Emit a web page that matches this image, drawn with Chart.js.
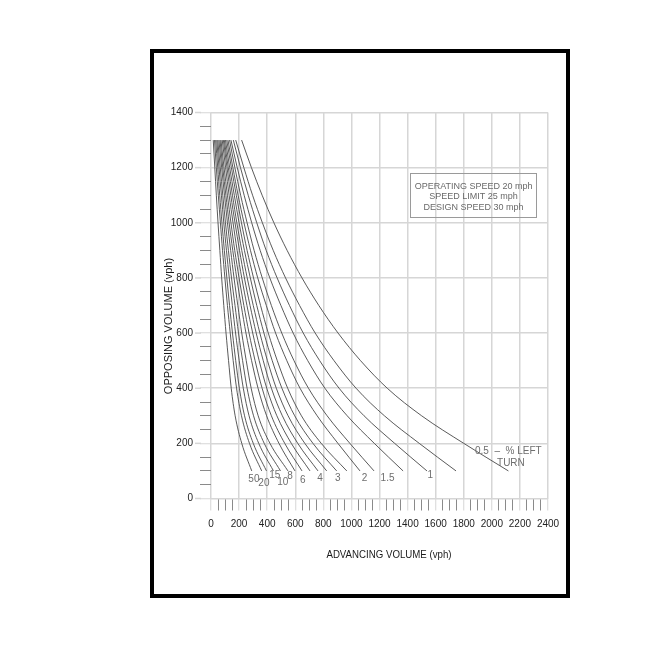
<!DOCTYPE html>
<html>
<head>
<meta charset="utf-8">
<script src="https://cdn.jsdelivr.net/npm/chart.js@4.4.1/dist/chart.umd.min.js"></script>
<style>
  html, body { margin: 0; padding: 0; background: #fff; }
  canvas { display: block; }
</style>
</head>
<body>
<canvas id="chart" width="672" height="658"></canvas>
<script>
const opposing = [1300, 1200, 1100, 1000, 900, 800, 700, 600, 500, 400, 300, 200, 100];

// advancing volume (vph) of each % left turn curve, left to right
const curve50 = [16, 27, 38, 50, 63, 76, 91, 107, 125, 144, 172, 219, 290];
const curve20 = [25, 38, 52, 67, 82, 99, 117, 137, 158, 182, 217, 274, 361];
const curve15 = [33, 48, 62, 78, 95, 113, 132, 153, 176, 202, 239, 301, 395];
const curve10 = [41, 57, 74, 91, 110, 130, 152, 175, 201, 230, 271, 340, 445];
const curve8a = [48, 66, 84, 103, 124, 146, 171, 196, 225, 257, 303, 379, 495];
const curve8b = [56, 76, 96, 117, 140, 164, 191, 219, 251, 286, 336, 420, 548];
const curve6 = [64, 84, 106, 129, 155, 183, 215, 249, 289, 335, 396, 484, 598];
const curve5a = [71, 93, 117, 142, 169, 200, 234, 271, 314, 364, 430, 525, 648];
const curve5b = [80, 104, 129, 157, 186, 219, 256, 297, 343, 397, 469, 572, 705];
const curve4 = [88, 114, 141, 171, 203, 238, 278, 322, 372, 430, 508, 618, 762];
const curve35 = [95, 123, 153, 184, 219, 258, 301, 348, 402, 465, 549, 668, 824];
const curve3 = [103, 133, 166, 200, 238, 280, 326, 377, 436, 505, 596, 726, 895];
const curve25 = [112, 145, 180, 217, 257, 303, 353, 408, 472, 546, 644, 785, 967];
const curve2 = [121, 156, 193, 235, 281, 333, 394, 460, 540, 634, 756, 904, 1061];
const curve15b = [132, 170, 211, 257, 307, 365, 430, 504, 591, 694, 827, 989, 1161];
const curve125 = [142, 187, 236, 290, 350, 419, 498, 585, 689, 811, 970, 1163, 1368];
const curve1 = [159, 210, 265, 326, 393, 471, 559, 657, 774, 912, 1090, 1308, 1538];
const curve075 = [176, 234, 296, 366, 443, 531, 631, 742, 876, 1033, 1235, 1483, 1745];
const curve05 = [218, 288, 364, 448, 542, 648, 768, 905, 1065, 1255, 1500, 1800, 2118];

const curves = [curve50, curve20, curve15, curve10, curve8a, curve8b, curve6, curve5a, curve5b,
  curve4, curve35, curve3, curve25, curve2, curve15b, curve125, curve1, curve075, curve05];

// tick labels
const xTickLabels = [0, 200, 400, 600, 800, 1000, 1200, 1400, 1600, 1800, 2000, 2200, 2400];
const yTickLabels = [0, 200, 400, 600, 800, 1000, 1200, 1400];

// curve labels (% left turn) and where they sit, in chart units
const curveLabels = ['50', '20', '15', '10', '8', '6', '4', '3', '2', '1.5', '1', '0.5  \u2013  % LEFT', 'TURN'];
const labelAtX = [266, 337, 415, 472, 543, 634, 757, 883, 1073, 1208, 1541, 1880, 2037];
const labelAtY = [70, 55, 85, 60, 79, 68, 73, 73, 73, 73, 83, 170, 129];

const speedNotes = ['OPERATING SPEED 20 mph', 'SPEED LIMIT 25 mph', 'DESIGN SPEED 30 mph'];

const FONT = '"Liberation Sans", Arial, sans-serif';
const GRID = '#d6d6d6';

const decorations = {
  id: 'decorations',
  beforeDraw(chart) {
    const c = chart.ctx;
    c.save();
    c.fillStyle = '#fff';
    c.fillRect(0, 0, chart.width, chart.height);
    c.restore();
  },
  afterDraw(chart) {
    const c = chart.ctx, xs = chart.scales.x, ys = chart.scales.y, a = chart.chartArea;
    c.save();

    // outer frame
    c.strokeStyle = '#000';
    c.lineWidth = 4;
    c.strokeRect(152, 51, 416, 545);

    // longer marks at the labelled y ticks
    c.strokeStyle = GRID;
    c.lineWidth = 1.5;
    yTickLabels.forEach(v => {
      const py = ys.getPixelForValue(v);
      c.beginPath();
      c.moveTo(a.left - 16, py);
      c.lineTo(a.left - 10, py);
      c.stroke();
    });

    // axis titles
    c.fillStyle = '#1a1a1a';
    c.font = '11px ' + FONT;
    c.textAlign = 'center';
    c.textBaseline = 'middle';
    c.save();
    c.translate(a.left + 178, a.bottom + 56.5);
    c.scale(0.88, 1);
    c.fillText('ADVANCING VOLUME (vph)', 0, 0);
    c.restore();
    c.save();
    c.translate(a.left - 42, a.top + 213.5);
    c.rotate(-Math.PI / 2);
    c.fillText('OPPOSING VOLUME (vph)', 0, 0);
    c.restore();

    // curve labels
    c.fillStyle = '#6e6e6e';
    c.font = '10px ' + FONT;
    c.textAlign = 'left';
    curveLabels.forEach((t, i) => {
      c.fillText(t, xs.getPixelForValue(labelAtX[i]), ys.getPixelForValue(labelAtY[i]));
    });

    // speed note box
    const bx0 = xs.getPixelForValue(1420), bx1 = xs.getPixelForValue(2320);
    const by0 = ys.getPixelForValue(1180), by1 = ys.getPixelForValue(1020);
    c.strokeStyle = '#9a9a9a';
    c.lineWidth = 1;
    c.strokeRect(Math.round(bx0) + 0.5, Math.round(by0) + 0.5, Math.round(bx1 - bx0), Math.round(by1 - by0));
    c.fillStyle = '#6a6a6a';
    c.font = '9px ' + FONT;
    c.textAlign = 'center';
    const cx = (bx0 + bx1) / 2;
    speedNotes.forEach((t, i) => {
      c.fillText(t, cx, by0 + 13 + i * 10.5);
    });

    c.restore();
  }
};

const isMajor = (ctx, list) => ctx.tick && list.includes(ctx.tick.value);

new Chart(document.getElementById('chart'), {
  type: 'scatter',
  data: {
    datasets: curves.map(xsArr => ({
      data: xsArr.map((v, k) => ({ x: v, y: opposing[k] })),
      showLine: true,
      pointRadius: 0,
      borderColor: '#474747',
      borderWidth: 0.9,
      fill: false,
      cubicInterpolationMode: 'monotone'
    }))
  },
  options: {
    responsive: false,
    animation: false,
    layout: { padding: { left: 155, right: 124, top: 112.5, bottom: 119.5 } },
    plugins: { legend: { display: false }, tooltip: { enabled: false } },
    scales: {
      x: {
        type: 'linear',
        min: 0,
        max: 2400,
        border: { display: false },
        afterFit: s => { s.height = 40; },
        grid: {
          color: ctx => isMajor(ctx, xTickLabels) ? GRID : 'rgba(0,0,0,0)',
          lineWidth: ctx => isMajor(ctx, xTickLabels) ? 1.5 : 1,
          tickColor: ctx => isMajor(ctx, xTickLabels) ? GRID : '#8a8a8a',
          tickLength: 12,
          tickWidth: 1
        },
        ticks: {
          stepSize: 50,
          maxTicksLimit: 100,
          autoSkip: false,
          maxRotation: 0,
          padding: 8,
          color: '#222',
          font: { family: FONT, size: 10 },
          callback: v => xTickLabels.includes(v) ? String(v) : ''
        }
      },
      y: {
        type: 'linear',
        min: 0,
        max: 1400,
        border: { display: false },
        afterFit: s => { s.width = 56; },
        grid: {
          color: ctx => isMajor(ctx, yTickLabels) ? GRID : 'rgba(0,0,0,0)',
          lineWidth: ctx => isMajor(ctx, yTickLabels) ? 1.5 : 1,
          tickColor: ctx => isMajor(ctx, yTickLabels) ? GRID : '#8a8a8a',
          tickLength: 11,
          tickWidth: 1
        },
        ticks: {
          stepSize: 50,
          maxTicksLimit: 100,
          autoSkip: false,
          padding: 7,
          color: '#222',
          font: { family: FONT, size: 10 },
          callback: v => yTickLabels.includes(v) ? String(v) : ''
        }
      }
    }
  },
  plugins: [decorations]
});
</script>
</body>
</html>
